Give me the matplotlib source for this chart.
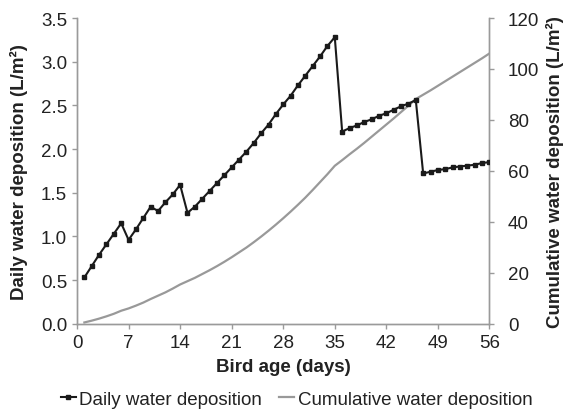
import matplotlib.pyplot as plt
from matplotlib.lines import Line2D

plt.rcParams['font.family'] = ['Liberation Sans', 'DejaVu Sans']

# Bird age (days)
days = list(range(1, 57))

# Daily water deposition (L/m2)
daily = [0.53, 0.66, 0.79, 0.91, 1.03, 1.15, 0.96, 1.08, 1.21, 1.34,
         1.29, 1.39, 1.48, 1.59, 1.27, 1.34, 1.43, 1.52, 1.61, 1.70,
         1.79, 1.88, 1.97, 2.07, 2.18, 2.28, 2.40, 2.51, 2.61, 2.73,
         2.84, 2.95, 3.06, 3.18, 3.28, 2.20, 2.24, 2.27, 2.31, 2.34,
         2.38, 2.41, 2.45, 2.49, 2.52, 2.56, 1.72, 1.74, 1.76, 1.77,
         1.79, 1.80, 1.81, 1.82, 1.84, 1.85]

# Cumulative water deposition (L/m2)
cumulative = [0.5, 1.2, 2.0, 2.9, 3.9, 5.1, 6.0, 7.1, 8.3, 9.7,
              11.0, 12.3, 13.8, 15.4, 16.7, 18.0, 19.5, 21.0, 22.6, 24.3,
              26.1, 28.0, 29.9, 32.0, 34.2, 36.5, 38.9, 41.4, 44.0, 46.7,
              49.5, 52.5, 55.6, 58.7, 62.0, 64.2, 66.5, 68.7, 71.0, 73.4,
              75.8, 78.2, 80.6, 83.1, 85.6, 88.2, 89.9, 91.6, 93.4, 95.2,
              97.0, 98.8, 100.6, 102.4, 104.2, 106.1]

xticks = [0, 7, 14, 21, 28, 35, 42, 49, 56]
left_ticks = [0.0, 0.5, 1.0, 1.5, 2.0, 2.5, 3.0, 3.5]
right_ticks = [0, 20, 40, 60, 80, 100, 120]

spine_col = '#9a9a9a'
text_col = '#222222'
fs = 13.5

fig = plt.figure(figsize=(5.65, 4.10), dpi=100)
ax = fig.add_axes([0.1363, 0.208, 0.730, 0.7456])
ax2 = ax.twinx()

ax2.plot(days, cumulative, color='#999999', linewidth=1.6, zorder=1)
ax.plot(days, daily, color='#1a1a1a', linewidth=1.5, marker='s',
        markersize=3.2, zorder=3)

ax.set_zorder(ax2.get_zorder() + 1)
ax.patch.set_visible(False)

ax.set_xlim(0, 56)
ax.set_ylim(0, 3.5)
ax2.set_ylim(0, 120)
ax.set_xticks(xticks)
ax.set_yticks(left_ticks)
ax.set_yticklabels([f'{v:.1f}' for v in left_ticks])
ax2.set_yticks(right_ticks)

for a in (ax, ax2):
    a.spines['top'].set_visible(False)
    for side in ('left', 'right', 'bottom'):
        a.spines[side].set_color(spine_col)
        a.spines[side].set_linewidth(1.0)
    a.tick_params(colors=spine_col, labelcolor=text_col, labelsize=fs,
                  length=3.6, width=1.0, direction='out')
ax.tick_params(axis='x', pad=4)
ax.tick_params(axis='y', pad=3.6)
ax2.tick_params(axis='y', pad=9.8)

ax.set_xlabel('Bird age (days)', fontsize=fs, fontweight='bold', color=text_col)
ax.xaxis.set_label_coords(0.5, -0.113)
ax.set_ylabel('Daily water deposition (L/m²)', fontsize=fs, fontweight='bold',
              color=text_col)
ax.yaxis.label.set_va('center')
ax.yaxis.set_label_coords(-0.141, 0.5)
ax2.set_ylabel('Cumulative water deposition (L/m²)', fontsize=fs,
               fontweight='bold', color=text_col)
ax2.yaxis.label.set_va('center')
ax2.yaxis.set_label_coords(1.160, 0.5)

handles = [
    Line2D([], [], color='#1a1a1a', linewidth=1.5, marker='s', markersize=3),
    Line2D([], [], color='#999999', linewidth=1.6),
]
fig.legend(handles, ['Daily water deposition', 'Cumulative water deposition'],
           loc='center', bbox_to_anchor=(0.525, 0.024), ncol=2, frameon=False,
           fontsize=fs, handlelength=0.8, handletextpad=0.2,
           columnspacing=0.9, labelcolor=text_col, borderpad=0)

fig.savefig('out.png', dpi=100)
